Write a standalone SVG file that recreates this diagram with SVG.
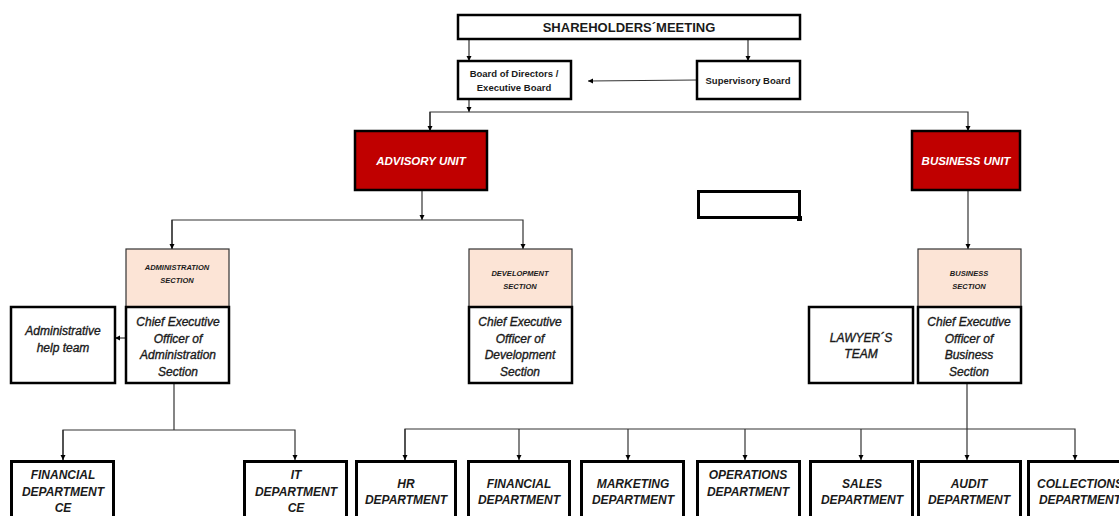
<svg xmlns="http://www.w3.org/2000/svg" width="1119" height="516" viewBox="0 0 1119 516">
<style>
text{font-family:"Liberation Sans",Arial,sans-serif;fill:#1a1a1a;text-anchor:middle}
.box{fill:#fff;stroke:#000;stroke-width:2.5}
.bx3{fill:#fff;stroke:#000;stroke-width:3}
.red{fill:#c00000;stroke:#000;stroke-width:2.5}
.sec{fill:#fce4d6;stroke:#333;stroke-width:1.2}
.ln{fill:none;stroke:#333;stroke-width:1.2}
.t9{font-size:9.5px;font-weight:bold}
.unit{font-size:11.5px;font-weight:bold;font-style:italic;fill:#fff}
.st{font-size:7.5px;font-weight:bold;font-style:italic}
.ceo{font-size:12px;font-style:italic;stroke:#1a1a1a;stroke-width:0.35}
.dep{font-size:12px;font-weight:bold;font-style:italic}
</style>
<defs>
<marker id="a" markerWidth="6" markerHeight="6" refX="5" refY="3" orient="auto" markerUnits="userSpaceOnUse">
<path d="M0,0.5 L5,3 L0,5.5 Z" fill="#000"/>
</marker>
</defs>
<g id="connectors">
<path class="ln" d="M469,39 V61" marker-end="url(#a)"/>
<path class="ln" d="M748,39 V61" marker-end="url(#a)"/>
<path class="ln" d="M697,80 L588,81" marker-end="url(#a)"/>
<path class="ln" d="M469,99 V112" marker-end="url(#a)"/>
<path class="ln" d="M430,131 V112 H968 V131" marker-end="url(#a)"/>
<path class="ln" d="M430,112 V131" marker-end="url(#a)"/>
<path class="ln" d="M422,190 V220" marker-end="url(#a)"/>
<path class="ln" d="M172,249 V220 H523 V249" marker-end="url(#a)"/>
<path class="ln" d="M172,220 V249" marker-end="url(#a)"/>
<path class="ln" d="M968,190 V249" marker-end="url(#a)"/>
<path class="ln" d="M126,338 H115" marker-end="url(#a)"/>
<path class="ln" d="M174,375 V430"/>
<path class="ln" d="M63,460 V430 H295 V460" marker-end="url(#a)"/>
<path class="ln" d="M63,430 V460" marker-end="url(#a)"/>
<path class="ln" d="M967,383 V460" marker-end="url(#a)"/>
<path class="ln" d="M405,460 V429 H1075 V460" marker-end="url(#a)"/>
<path class="ln" d="M405,429 V460" marker-end="url(#a)"/>
<path class="ln" d="M519,429 V460" marker-end="url(#a)"/>
<path class="ln" d="M628,429 V460" marker-end="url(#a)"/>
<path class="ln" d="M745,429 V460" marker-end="url(#a)"/>
<path class="ln" d="M861,429 V460" marker-end="url(#a)"/>
<rect x="918" y="335" width="3" height="4" fill="#000"/>
<rect x="1017" y="333" width="3" height="4" fill="#000"/>
</g>
<g id="shareholders"><rect class="box" x="458" y="15" width="342" height="24"/><text x="629" y="32" style="font-size:13px;font-weight:bold">SHAREHOLDERS´MEETING</text></g>
<g id="board"><rect class="box" x="458" y="61" width="113" height="38"/><text class="t9" x="514" y="77">Board of Directors /</text><text class="t9" x="514" y="91">Executive Board</text></g>
<g id="supervisory"><rect class="box" x="697" y="61" width="103" height="38"/><text class="t9" x="748" y="84">Supervisory Board</text></g>
<g id="advisory"><rect class="red" x="355" y="131" width="132" height="59"/><text class="unit" x="421" y="165">ADVISORY UNIT</text></g>
<g id="business"><rect class="red" x="912" y="131" width="108" height="59"/><text class="unit" x="966" y="165">BUSINESS UNIT</text></g>
<g id="empty"><rect x="698.5" y="191.5" width="101" height="26" fill="#fff" stroke="#000" stroke-width="3"/><rect x="797" y="216" width="5" height="5" fill="#000"/></g>
<g id="admin-section"><rect class="sec" x="126" y="249" width="103" height="58"/><text class="st" x="177" y="270">ADMINISTRATION</text><text class="st" x="177" y="283">SECTION</text></g>
<g id="dev-section"><rect class="sec" x="469" y="249" width="103" height="58"/><text class="st" x="520" y="276">DEVELOPMENT</text><text class="st" x="520" y="289">SECTION</text></g>
<g id="bus-section"><rect class="sec" x="918" y="249" width="103" height="58"/><text class="st" x="969" y="276">BUSINESS</text><text class="st" x="969" y="289">SECTION</text></g>
<g id="ceo-admin"><rect class="box" x="126" y="307" width="103" height="76"/><text class="ceo" x="178" y="326">Chief Executive</text><text class="ceo" x="178" y="343">Officer of</text><text class="ceo" x="178" y="359">Administration</text><text class="ceo" x="178" y="376">Section</text></g>
<g id="help-team"><rect class="box" x="11" y="307" width="104" height="76"/><text class="ceo" x="63" y="335">Administrative</text><text class="ceo" x="63" y="352">help team</text></g>
<g id="ceo-dev"><rect class="box" x="469" y="307" width="103" height="76"/><text class="ceo" x="520" y="326">Chief Executive</text><text class="ceo" x="520" y="343">Officer of</text><text class="ceo" x="520" y="359">Development</text><text class="ceo" x="520" y="376">Section</text></g>
<g id="lawyers"><rect class="box" x="809" y="307" width="104" height="76"/><text class="ceo" x="861" y="342">LAWYER´S</text><text class="ceo" x="861" y="358">TEAM</text></g>
<g id="ceo-bus"><rect class="box" x="918" y="307" width="103" height="76"/><text class="ceo" x="969" y="326">Chief Executive</text><text class="ceo" x="969" y="343">Officer of</text><text class="ceo" x="969" y="359">Business</text><text class="ceo" x="969" y="376">Section</text></g>
<g id="fin-ce"><rect class="bx3" x="11.5" y="461.5" width="102" height="60"/><text class="dep" x="63" y="479">FINANCIAL</text><text class="dep" x="63" y="496">DEPARTMENT</text><text class="dep" x="63" y="512">CE</text></g>
<g id="it-ce"><rect class="bx3" x="244.5" y="461.5" width="102" height="60"/><text class="dep" x="296" y="479">IT</text><text class="dep" x="296" y="496">DEPARTMENT</text><text class="dep" x="296" y="512">CE</text></g>
<g id="hr"><rect class="bx3" x="356.5" y="461.5" width="99" height="60"/><text class="dep" x="406" y="488">HR</text><text class="dep" x="406" y="504">DEPARTMENT</text></g>
<g id="fin"><rect class="bx3" x="468.5" y="461.5" width="101" height="60"/><text class="dep" x="519" y="488">FINANCIAL</text><text class="dep" x="519" y="504">DEPARTMENT</text></g>
<g id="marketing"><rect class="bx3" x="581.5" y="461.5" width="102" height="60"/><text class="dep" x="633" y="488">MARKETING</text><text class="dep" x="633" y="504">DEPARTMENT</text></g>
<g id="operations"><rect class="bx3" x="697.5" y="461.5" width="102" height="60"/><text class="dep" x="748" y="479">OPERATIONS</text><text class="dep" x="748" y="496">DEPARTMENT</text></g>
<g id="sales"><rect class="bx3" x="810.5" y="461.5" width="102" height="60"/><text class="dep" x="862" y="488">SALES</text><text class="dep" x="862" y="504">DEPARTMENT</text></g>
<g id="audit"><rect class="bx3" x="918.5" y="461.5" width="102" height="60"/><text class="dep" x="969" y="488">AUDIT</text><text class="dep" x="969" y="504">DEPARTMENT</text></g>
<g id="collections"><rect class="bx3" x="1028.5" y="461.5" width="102" height="60"/><text class="dep" x="1080" y="488">COLLECTIONS</text><text class="dep" x="1080" y="504">DEPARTMENT</text></g>
</svg>
